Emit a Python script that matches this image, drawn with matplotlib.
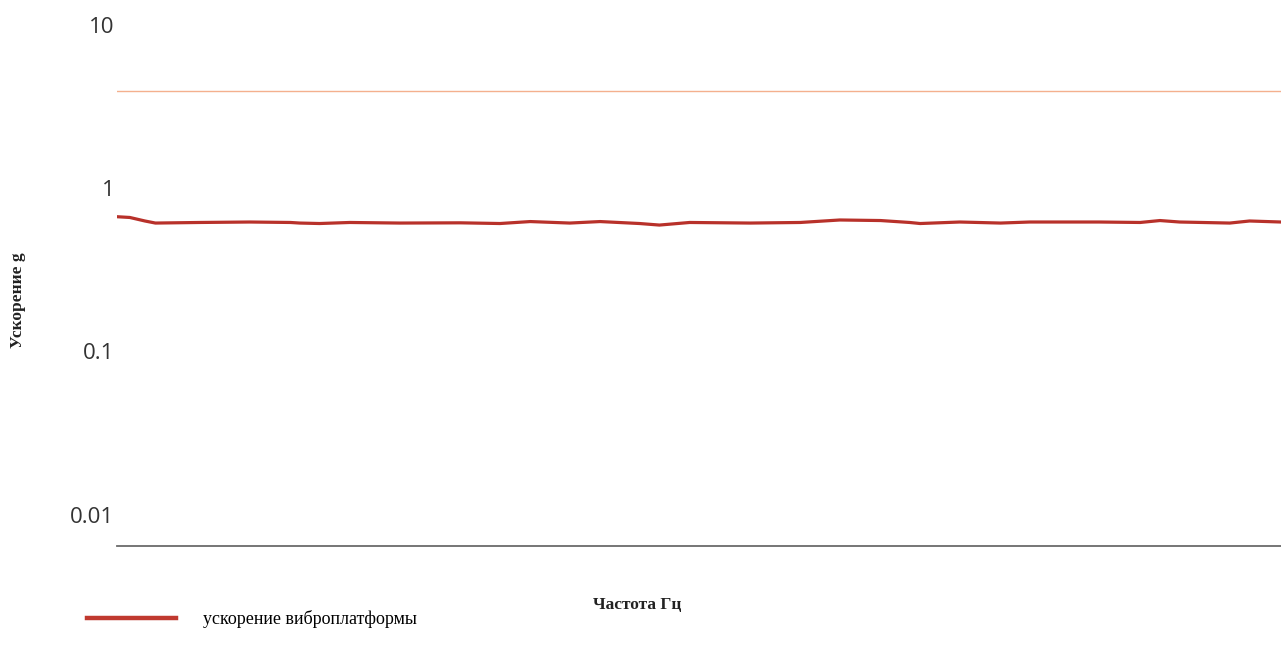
import matplotlib.pyplot as plt
from matplotlib.ticker import FixedLocator, FixedFormatter

# measured platform acceleration vs frequency
freq_hz = [0, 11, 24, 33, 71, 114, 149, 157, 174, 200, 243, 295, 329, 355,
           389, 415, 449, 466, 492, 544, 587, 621, 656, 681, 690, 724, 759,
           784, 844, 879, 896, 913, 956, 973, 1000]
accel_g = [0.667, 0.660, 0.628, 0.610, 0.615, 0.619, 0.615, 0.610, 0.606,
           0.615, 0.610, 0.612, 0.606, 0.623, 0.610, 0.623, 0.606, 0.593,
           0.615, 0.610, 0.615, 0.637, 0.632, 0.615, 0.606, 0.619, 0.610,
           0.619, 0.619, 0.615, 0.632, 0.619, 0.610, 0.628, 0.619]
limit_g = 3.9

y_ticks = [10, 1, 0.1, 0.01]
y_tick_labels = ["10", "1", "0.1", "0.01"]
legend_label = "ускорение виброплатформы"

fig = plt.figure(figsize=(12.81, 6.61), dpi=100, facecolor="white")
ax = fig.add_axes([117 / 1281, 115 / 661, 1 - 117 / 1281, 546 / 661])

ax.axhline(limit_g, color="#f4b08e", lw=1.0)
line, = ax.plot(freq_hz, accel_g, color="#b8312a", lw=2.3,
                solid_joinstyle="round")

ax.set_yscale("log")
ax.set_ylim(0.00642, 14.17)
ax.set_xlim(0, 1000)

ax.yaxis.set_major_locator(FixedLocator(y_ticks))
ax.yaxis.set_major_formatter(FixedFormatter(y_tick_labels))
ax.yaxis.set_minor_locator(FixedLocator([]))
ax.tick_params(axis="y", length=0, pad=2, labelsize=16, labelcolor="#333333")
for t in ax.get_yticklabels():
    t.set_family("Open Sans")
ax.set_xticks([])

for side in ("left", "right", "top"):
    ax.spines[side].set_visible(False)
ax.spines["bottom"].set_color("#6a6a6a")
ax.spines["bottom"].set_linewidth(1.3)

fig.text(637 / 1281, 1 - 605 / 661, "Частота Гц", ha="center", va="center",
         family="Liberation Serif", fontweight="bold", fontsize=12.5,
         color="#222222")
fig.text(18 / 1281, 1 - 300 / 661, "Ускорение g", ha="center", va="center",
         rotation=90, family="Liberation Serif", fontweight="bold",
         fontsize=12.5, color="#222222")

leg = fig.legend([line], [legend_label], loc="center left",
                 bbox_to_anchor=(71 / 1281, 1 - 619 / 661), frameon=False,
                 handlelength=4.9, handletextpad=1.5,
                 prop={"family": "Liberation Serif", "size": 13})
leg.get_lines()[0].set_linewidth(3.2)
leg.get_lines()[0].set_color("#c0392f")

fig.savefig("out.png", dpi=100, facecolor="white")
